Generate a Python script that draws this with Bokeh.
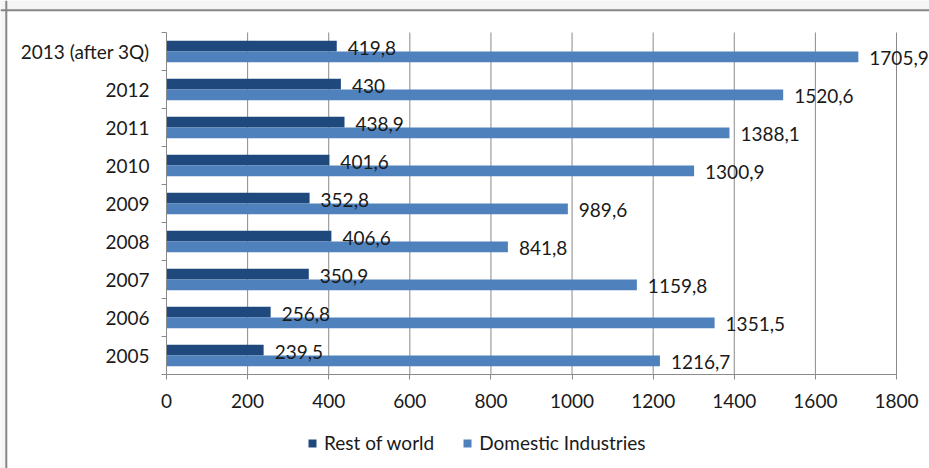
from bokeh.plotting import figure
from bokeh.models import (ColumnDataSource, Range1d, FixedTicker, LabelSet, Legend,
                          LegendItem, Span, BoxAnnotation)
from bokeh.core.properties import value
from bokeh.embed import file_html
from bokeh.resources import INLINE

# ---- data ----
years = ["2005", "2006", "2007", "2008", "2009", "2010", "2011", "2012", "2013 (after 3Q)"]
rest_of_world = [239.5, 256.8, 350.9, 406.6, 352.8, 401.6, 438.9, 430, 419.8]
domestic = [1216.7, 1351.5, 1159.8, 841.8, 989.6, 1300.9, 1388.1, 1520.6, 1705.9]
x_ticks = [0, 200, 400, 600, 800, 1000, 1200, 1400, 1600, 1800]
series_names = ["Rest of world", "Domestic Industries"]

DARK = "#1F497D"
LIGHT = "#4F81BD"
GRID = "#8A8A8A"
TXT = "#1a1a1a"
FONT = "Lato"
FS = "19px"

W, H = 929, 468
# frame covers the whole figure; axes drawn at fixed data locations
PX_X = 730 / 1800.0          # px per unit on x
PX_Y = 342 / 9.0             # px per category
X0_PX, Y0_PX = 166, 374      # pixel position of the (0, 0) corner
x_start = -X0_PX / PX_X
x_end = (W - X0_PX) / PX_X
y_start = -(H - Y0_PX) / PX_Y
y_end = Y0_PX / PX_Y

def fmt(v):
    return f"{v:g}".replace(".", ",")

n = len(years)
centers = [i + 0.5 for i in range(n)]
off = 0.14
bh = 0.28

src_rest = ColumnDataSource(dict(
    y=[c + off for c in centers], v=rest_of_world,
    lab=[fmt(v) for v in rest_of_world]))
src_dom = ColumnDataSource(dict(
    y=[c - off for c in centers], v=domestic,
    lab=[fmt(v) for v in domestic]))

p = figure(width=W, height=H, output_backend="svg", toolbar_location=None,
           x_range=Range1d(x_start, x_end), y_range=Range1d(y_start, y_end),
           min_border=0)
p.outline_line_color = None
p.background_fill_color = "#f5f5f5"
p.border_fill_color = "#f5f5f5"
p.xgrid.visible = False
p.ygrid.visible = False

# white chart area inside the outer border, and the border (top and left edges)
p.add_layout(BoxAnnotation(left=x_start + 6.5 / PX_X, top=y_end - 10.5 / PX_Y,
                           fill_color="white", fill_alpha=1, line_color=None, level="underlay"))
p.add_layout(Span(location=y_end - 9.8 / PX_Y, dimension="width", line_color="#868686", line_width=2))
p.add_layout(Span(location=x_start + 5.8 / PX_X, dimension="height", line_color="#868686", line_width=2))

# vertical gridlines
gx = x_ticks[1:]
p.segment(x0=gx, y0=[0] * len(gx), x1=gx, y1=[n] * len(gx), line_color=GRID, line_width=1)

r1 = p.hbar(y="y", right="v", left=0, height=bh, source=src_rest, fill_color=DARK, line_color=None)
r2 = p.hbar(y="y", right="v", left=0, height=bh, source=src_dom, fill_color=LIGHT, line_color=None)

for s in (src_rest, src_dom):
    p.add_layout(LabelSet(x="v", y="y", text="lab", source=s, x_offset=11, y_offset=-1.5,
                          text_baseline="middle", text_align="left",
                          text_font=value(FONT), text_font_size=value(FS), text_color=TXT))

# x axis at y = 0
p.xaxis.fixed_location = 0
p.xaxis.bounds = (0, 1800)
p.xaxis.ticker = FixedTicker(ticks=x_ticks)
p.xaxis.axis_line_color = GRID
p.xaxis.major_tick_line_color = GRID
p.xaxis.major_tick_out = 5
p.xaxis.major_tick_in = 0
p.xaxis.minor_tick_line_color = None
p.xaxis.major_label_text_font = FONT
p.xaxis.major_label_text_font_size = FS
p.xaxis.major_label_text_color = TXT
p.xaxis.major_label_standoff = 14

# y axis at x = 0: labels at category centres, ticks at boundaries
p.yaxis.fixed_location = 0
p.yaxis.bounds = (0, n)
p.yaxis.ticker = FixedTicker(ticks=centers, minor_ticks=list(range(n + 1)))
p.yaxis.major_label_overrides = {c: y for c, y in zip(centers, years)}
p.yaxis.axis_line_color = GRID
p.yaxis.major_tick_line_color = None
p.yaxis.minor_tick_line_color = GRID
p.yaxis.minor_tick_out = 5
p.yaxis.minor_tick_in = 0
p.yaxis.major_label_text_font = FONT
p.yaxis.major_label_text_font_size = FS
p.yaxis.major_label_text_color = TXT
p.yaxis.major_label_standoff = 11

legend = Legend(items=[LegendItem(label=series_names[0], renderers=[r1]),
                       LegendItem(label=series_names[1], renderers=[r2])],
                location=(307, 14), orientation="horizontal",
                glyph_width=10, glyph_height=10, label_standoff=7, spacing=28,
                padding=0, margin=0, border_line_color=None, background_fill_alpha=0,
                label_text_font=FONT, label_text_font_size=FS, label_text_color=TXT,
                label_height=20)
p.add_layout(legend, "center")

open("out.html", "w").write(file_html(p, INLINE))
